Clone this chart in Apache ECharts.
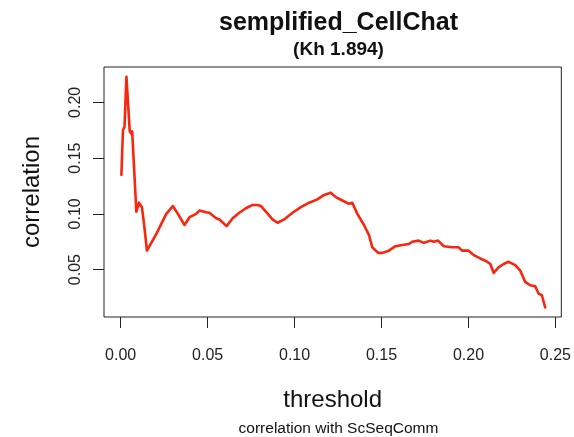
<!DOCTYPE html>
<html>
<head>
<meta charset="utf-8">
<script src="https://cdn.jsdelivr.net/npm/echarts@6/dist/echarts.min.js"></script>
<style>
  html, body { margin: 0; padding: 0; background: #fff; }
  #chart { width: 574px; height: 437px; }
</style>
</head>
<body>
<div id="chart"></div>
<script>
// Correlation of semplified_CellChat against ScSeqComm over the threshold sweep
const threshold = [
  0.0004, 0.0013, 0.0022, 0.0033, 0.0052, 0.0060, 0.0066, 0.0090, 0.0105, 0.0122,
  0.0135, 0.0151, 0.0205, 0.0262, 0.0300, 0.0329, 0.0367, 0.0396, 0.0434, 0.0453,
  0.0491, 0.0510, 0.0549, 0.0568, 0.0609, 0.0644, 0.0682, 0.0720, 0.0759, 0.0787,
  0.0807, 0.0835, 0.0873, 0.0902, 0.0940, 0.0988, 0.1036, 0.1084, 0.1131, 0.1170,
  0.1208, 0.1237, 0.1275, 0.1313, 0.1332, 0.1361, 0.1399, 0.1428, 0.1447, 0.1481,
  0.1504, 0.1542, 0.1580, 0.1619, 0.1657, 0.1676, 0.1714, 0.1743, 0.1782, 0.1801,
  0.1825, 0.1858, 0.1906, 0.1944, 0.1963, 0.2001, 0.2030, 0.2068, 0.2097, 0.2126,
  0.2145, 0.2173, 0.2202, 0.2231, 0.2269, 0.2298, 0.2326, 0.2355, 0.2384, 0.2403,
  0.2422, 0.2441
];
const correlation = [
  0.135, 0.175, 0.178, 0.223, 0.174, 0.172, 0.174, 0.102, 0.110, 0.106,
  0.090, 0.067, 0.082, 0.100, 0.107, 0.100, 0.090, 0.097, 0.100, 0.103,
  0.1015, 0.101, 0.096, 0.095, 0.089, 0.096, 0.101, 0.105, 0.108, 0.108,
  0.107, 0.102, 0.095, 0.092, 0.095, 0.101, 0.106, 0.110, 0.113, 0.117,
  0.119, 0.115, 0.112, 0.109, 0.110, 0.100, 0.090, 0.081, 0.070, 0.065,
  0.065, 0.067, 0.071, 0.072, 0.073, 0.075, 0.076, 0.074, 0.076, 0.075,
  0.076, 0.071, 0.070, 0.070, 0.067, 0.067, 0.063, 0.060, 0.058, 0.055,
  0.047, 0.052, 0.055, 0.057, 0.054, 0.049, 0.039, 0.036, 0.035, 0.0285,
  0.027, 0.016
];
const xTicks = [0, 0.05, 0.10, 0.15, 0.20, 0.25];
const yTicks = [0.05, 0.10, 0.15, 0.20];

const mainTitle = 'semplified_CellChat';
const subTitle = '(Kh 1.894)';
const xName = 'threshold';
const yName = 'correlation';
const caption = 'correlation with ScSeqComm';

const FONT = '"Liberation Sans", Arial, Helvetica, sans-serif';
const chart = echarts.init(document.getElementById('chart'), null, { renderer: 'canvas' });

chart.setOption({
  animation: false,
  backgroundColor: '#ffffff',
  title: [
    { text: mainTitle, left: 333.5, top: 6, textAlign: 'center',
      textStyle: { fontFamily: FONT, fontSize: 25, fontWeight: 'bold', color: '#111' } },
    { text: subTitle, left: 333.5, top: 35, textAlign: 'center',
      textStyle: { fontFamily: FONT, fontSize: 19, fontWeight: 'bold', color: '#111' } },
    { text: caption, left: 333.5, top: 416, textAlign: 'center',
      textStyle: { fontFamily: FONT, fontSize: 15.5, fontWeight: 'normal', color: '#111' } }
  ],
  grid: {
    left: 104, right: 11, top: 67, bottom: 120,
    show: true, borderColor: '#222', borderWidth: 1, backgroundColor: 'transparent'
  },
  xAxis: {
    type: 'value',
    min: -0.0096, max: 0.2534,
    name: xName, nameLocation: 'middle', nameGap: 71,
    nameTextStyle: { fontFamily: FONT, fontSize: 24, color: '#111' },
    axisLine: { show: false, onZero: false },
    splitLine: { show: false },
    axisTick: { show: true, inside: false, length: 11, customValues: xTicks,
      lineStyle: { color: '#222', width: 1 } },
    axisLabel: { customValues: xTicks, margin: 31, fontFamily: FONT, fontSize: 16, color: '#222',
      formatter: v => v.toFixed(2) }
  },
  yAxis: {
    type: 'value',
    min: 0.0075, max: 0.2317,
    name: yName, nameLocation: 'middle', nameGap: 60, nameRotate: 90,
    nameTextStyle: { fontFamily: FONT, fontSize: 24, color: '#111' },
    axisLine: { show: false, onZero: false },
    splitLine: { show: false },
    axisTick: { show: true, inside: false, length: 11, customValues: yTicks,
      lineStyle: { color: '#222', width: 1 } },
    axisLabel: { customValues: yTicks, rotate: 90, margin: 20, fontFamily: FONT, fontSize: 16, color: '#222',
      formatter: v => v.toFixed(2) }
  },
  series: [{
    type: 'line',
    data: threshold.map((t, i) => [t, correlation[i]]),
    showSymbol: false,
    smooth: false,
    lineStyle: { color: '#f9260f', width: 2.6, join: 'round', cap: 'round' }
  }]
});
</script>
</body>
</html>
